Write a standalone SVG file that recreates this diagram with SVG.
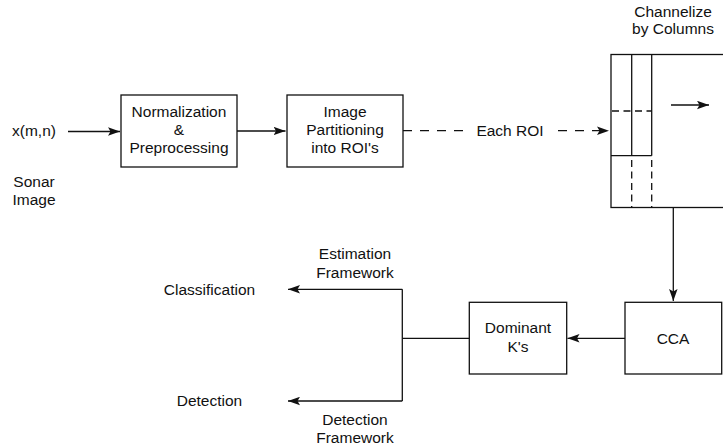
<svg xmlns="http://www.w3.org/2000/svg" width="723" height="446" viewBox="0 0 723 446">
<style>
text{font-family:"Liberation Sans",Arial,Helvetica,sans-serif;font-size:15.5px;fill:#111;text-anchor:middle}
.box{fill:#fff;stroke:#111;stroke-width:1.3}
.ln{fill:none;stroke:#111;stroke-width:1.3}
.dash{stroke-dasharray:9 8}
.sdash{stroke-dasharray:7 4.5}
</style>
<defs>
<marker id="ah" markerUnits="userSpaceOnUse" markerWidth="13" markerHeight="9" refX="12" refY="4.25" orient="auto" viewBox="0 0 13 8.5">
<path d="M0,0 L12,4.25 L0,8.5 L2.5,4.25 z" fill="#111"/>
</marker>
</defs>
<rect width="723" height="446" fill="#fff"/>
<g id="labels">
<text x="34" y="136">x(m,n)</text>
<text x="34" y="187">Sonar</text>
<text x="34" y="205">Image</text>
<text x="673" y="17">Channelize</text>
<text x="673" y="34">by Columns</text>
<text x="209.5" y="295">Classification</text>
<text x="209.5" y="406">Detection</text>
<text x="355" y="259">Estimation</text>
<text x="355" y="278">Framework</text>
<text x="355" y="425">Detection</text>
<text x="355" y="443">Framework</text>
</g>
<g id="normalization">
<rect class="box" x="121" y="95" width="116" height="72"/>
<text x="179" y="117">Normalization</text>
<text x="179" y="135">&amp;</text>
<text x="179" y="153">Preprocessing</text>
</g>
<g id="partitioning">
<rect class="box" x="287" y="95" width="116" height="72"/>
<text x="345" y="117">Image</text>
<text x="345" y="135">Partitioning</text>
<text x="345" y="153">into ROI's</text>
</g>
<g id="channelize">
<rect class="box" x="611" y="54.5" width="130" height="153"/>
<line class="ln" x1="631.7" y1="54.5" x2="631.7" y2="155.7"/>
<line class="ln" x1="651.7" y1="54.5" x2="651.7" y2="155.7"/>
<line class="ln" x1="611" y1="155.7" x2="651.7" y2="155.7"/>
<line class="ln sdash" x1="612" y1="111" x2="651.7" y2="111"/>
<line class="ln sdash" x1="631.7" y1="160" x2="631.7" y2="207.5"/>
<line class="ln sdash" x1="651.7" y1="160" x2="651.7" y2="207.5"/>
<line class="ln" x1="671" y1="105" x2="709" y2="105" marker-end="url(#ah)"/>
</g>
<g id="cca">
<rect class="box" x="625" y="302.3" width="96.7" height="71.7"/>
<text x="673" y="344">CCA</text>
</g>
<g id="dominant">
<rect class="box" x="469.3" y="302.3" width="97.4" height="71.7"/>
<text x="518" y="333">Dominant</text>
<text x="518" y="351.5">K's</text>
</g>
<g id="connectors">
<line class="ln" x1="68" y1="131.5" x2="120" y2="131.5" marker-end="url(#ah)"/>
<line class="ln" x1="237" y1="131" x2="285.5" y2="131" marker-end="url(#ah)"/>
<line class="ln dash" x1="403" y1="130.7" x2="466" y2="130.7"/>
<text x="510" y="136">Each ROI</text>
<line class="ln dash" x1="558" y1="130.7" x2="609" y2="130.7" marker-end="url(#ah)"/>
<line class="ln" x1="673.3" y1="207.5" x2="673.3" y2="301" marker-end="url(#ah)"/>
<line class="ln" x1="625" y1="338.3" x2="567.5" y2="338.3" marker-end="url(#ah)"/>
<line class="ln" x1="469.3" y1="338.3" x2="402.3" y2="338.3"/>
<polyline class="ln" points="402.3,289.3 402.3,401"/>
<line class="ln" x1="402.3" y1="289.3" x2="288" y2="289.3" marker-end="url(#ah)"/>
<line class="ln" x1="402.3" y1="401" x2="288" y2="401" marker-end="url(#ah)"/>
</g>
</svg>
